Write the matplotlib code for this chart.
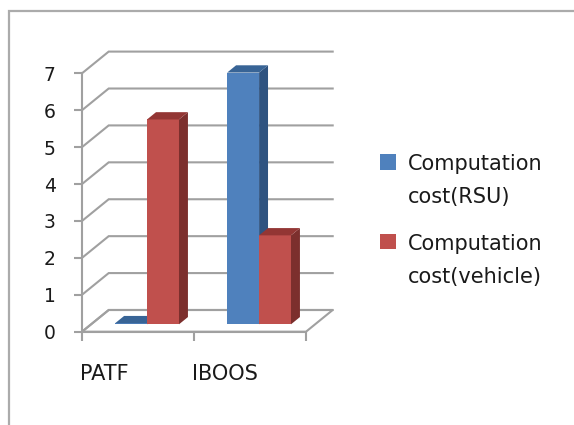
import matplotlib
matplotlib.use("Agg")
import matplotlib.pyplot as plt
from matplotlib.patches import Patch, Polygon, Rectangle
from matplotlib.transforms import ScaledTranslation

categories = ["PATF", "IBOOS"]
rsu_cost = [0.03, 6.82]
vehicle_cost = [5.55, 2.41]
y_ticks = [0, 1, 2, 3, 4, 5, 6, 7]
series_labels = ["Computation\ncost(RSU)", "Computation\ncost(vehicle)"]

W, H = 574, 425
GRID = "#A0A0A0"
INK = "#1A1A1A"
RSU = ("#4F81BD", "#2F5380", "#386496")       # front, side, top
VEHICLE = ("#C0504D", "#7C2F2D", "#933634")

fig = plt.figure(figsize=(W / 100, H / 100), dpi=100, facecolor="white")
fig.add_artist(Rectangle((9 / W, -0.05), 1.2, (H - 11) / H + 0.05,
                         transform=fig.transFigure, fc="white",
                         ec="#ABABAB", lw=1.6, zorder=-1))

ax = fig.add_axes([82 / W, (H - 331.7) / H, 224 / W, 258.4 / H])
ax.set_xlim(0, 2)
ax.set_ylim(0, 7)
ax.patch.set_visible(False)

# oblique projection: full depth of the plot box in data units
DX = 26.7 / 112
DY = 21.7 / 36.9


def project(x, y, z):
    return x + z * DX, y + z * DY


def face(points, **kw):
    ax.add_patch(Polygon([project(*p) for p in points], closed=True,
                         clip_on=False, **kw))


# floor, side wall and back wall gridlines
face([(0, 0, 0), (2, 0, 0), (2, 0, 1), (0, 0, 1)], fc="white", ec=GRID, lw=1.5)
for v in y_ticks:
    xs, ys = zip(project(0, v, 0), project(0, v, 1), project(2, v, 1))
    ax.plot(xs, ys, color=GRID, lw=1.5, clip_on=False, zorder=1,
            solid_joinstyle="miter")

# columns, each a front, side and top face
BAR_W = 0.285
Z0, Z1 = 0.34, 0.675


def column(x0, value, colors):
    x1 = x0 + BAR_W
    face([(x0, 0, Z0), (x1, 0, Z0), (x1, value, Z0), (x0, value, Z0)],
         fc=colors[0], ec="none", zorder=3)
    face([(x1, 0, Z0), (x1, 0, Z1), (x1, value, Z1), (x1, value, Z0)],
         fc=colors[1], ec="none", zorder=3)
    face([(x0, value, Z0), (x1, value, Z0), (x1, value, Z1), (x0, value, Z1)],
         fc=colors[2], ec="none", zorder=3)


for i in range(len(categories)):
    centre = i + 0.5
    column(centre - BAR_W, rsu_cost[i], RSU)
    column(centre, vehicle_cost[i], VEHICLE)

for side in ("top", "right"):
    ax.spines[side].set_visible(False)
for side in ("left", "bottom"):
    ax.spines[side].set_color(GRID)
    ax.spines[side].set_linewidth(1.5)

ax.set_yticks(y_ticks)
ax.set_xticks([0, 1, 2])
ax.set_xticklabels(categories + [""], ha="left")
ax.tick_params(axis="y", color=GRID, width=1.5, length=6, labelsize=13.5,
               labelcolor=INK, pad=13)
ax.tick_params(axis="x", color=GRID, width=1.5, length=6.5, labelsize=15,
               labelcolor=INK, pad=17)
nudge = ScaledTranslation(-2 / 100, 0, fig.dpi_scale_trans)
for lbl in ax.get_xticklabels():
    lbl.set_transform(lbl.get_transform() + nudge)

handles = [Patch(fc=RSU[0], ec="none"), Patch(fc=VEHICLE[0], ec="none")]
leg = fig.legend(handles, series_labels, loc="upper left",
                 bbox_to_anchor=(380 / W, 1 - 154 / H), frameon=False,
                 fontsize=15, handlelength=0.77, handleheight=0.77,
                 handletextpad=0.55, labelspacing=1.3, borderpad=0,
                 borderaxespad=0)
for t in leg.get_texts():
    t.set_linespacing(1.8)
    t.set_color(INK)

# marker squares sit level with the first line of each entry
for row in leg._legend_handle_box.get_children()[0].get_children():
    row.align = "top"

fig.savefig("out.png", dpi=100)
